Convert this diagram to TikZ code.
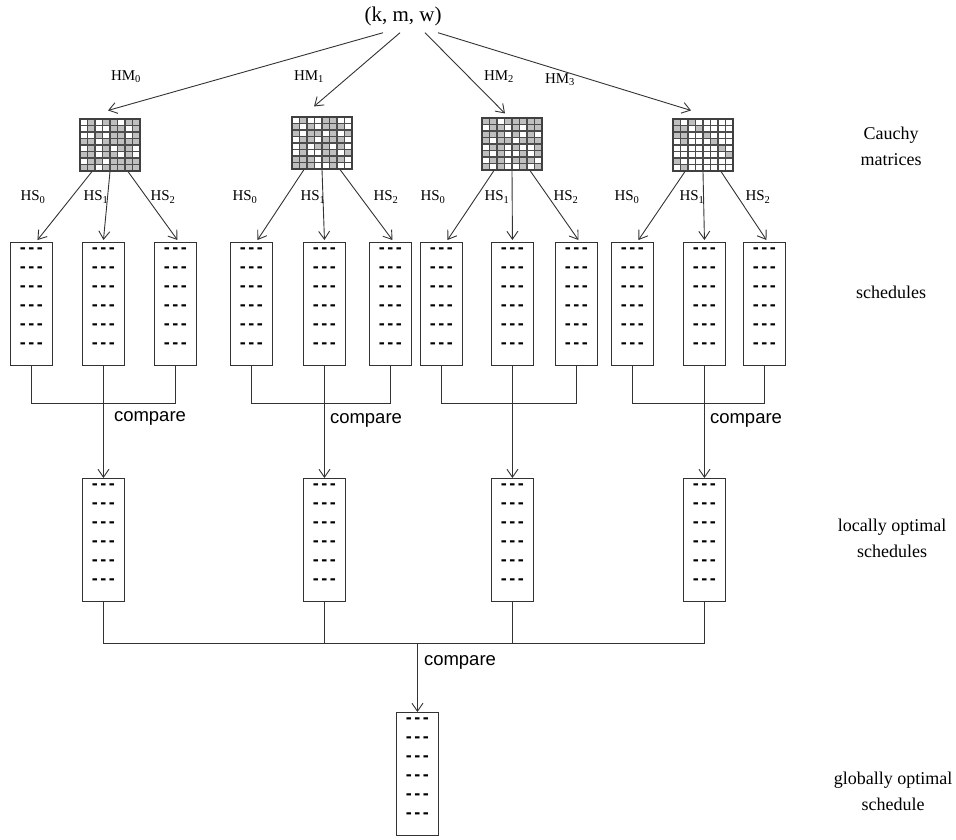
\documentclass[tikz,border=0pt]{standalone}
\usepackage{fontspec}
\setmainfont{Liberation Serif}
\newfontfamily\sansf{Liberation Sans}
\usetikzlibrary{arrows.meta}
\newcommand\dashrow{{\sansf\bfseries\fontsize{18}{18}\selectfont -\kern2.5pt-\kern2.5pt-}}
\newcommand\schedbx[3]{%
  \node[sbox] (#1) at (#2,#3) {};
  \foreach \dy in {9,28,47,66,85,104} \node[dashn] at ([yshift=-\dy pt]#1.north) {\dashrow};
}
\newcommand\cmat[4]{%
  \begin{scope}[shift={(#2,#3)}]
    \foreach \b [count=\i from 0] in {#4} {
      \pgfmathtruncatemacro\rr{\i/8}
      \pgfmathtruncatemacro\cc{\i-8*\rr}
      \ifnum\b=1 \fill[cellgray] (\cc*7.5,\rr*6.5) rectangle ++(7.5,6.5);\fi
    }
    \foreach \k in {0,...,8} {
      \draw[gridl] (\k*7.5,0) -- (\k*7.5,52);
      \draw[gridl] (0,\k*6.5) -- (60,\k*6.5);
    }
  \end{scope}
  \node[mbox] (#1) at (#2+30,#3+26) {};
}
\begin{document}
\begin{tikzpicture}[x=1pt,y=-1pt,
  ln/.style={draw=black!80, line width=0.9pt},
  arr/.style={ln, -{Straight Barb[length=8pt,width=11pt]}},
  sbox/.style={draw=black!80, line width=0.9pt, minimum width=42pt, minimum height=123pt, inner sep=0pt, anchor=north west},
  dashn/.style={inner sep=0pt, anchor=center},
  mbox/.style={minimum width=60pt, minimum height=52pt, inner sep=0pt, draw=black!75, line width=1.1pt},
  cellgray/.style={fill=black!25},
  gridl/.style={draw=black!70, line width=1.1pt},
  lab/.style={font=\fontsize{15}{15}\selectfont, inner sep=0pt},
  side/.style={font=\fontsize{18}{26}\selectfont, align=center, inner sep=0pt},
  cmp/.style={font=\sansf\fontsize{18.5}{18.5}\selectfont, inner sep=0pt},
]
\useasboundingbox (0,0) rectangle (956,839);

% top
\node[font=\fontsize{21}{21}\selectfont, inner sep=2pt] (top) at (403,16) {(k, m, w)};

% matrices
\cmat{m0}{80}{119}{0,1,0,1,1,0,1,1, 0,1,0,0,1,1,0,1, 0,0,1,0,1,1,0,1, 1,1,0,1,1,1,1,1, 0,1,0,1,0,1,1,0, 1,1,0,1,1,0,1,0, 0,1,1,0,1,1,1,1, 1,1,0,1,1,1,1,1}
\cmat{m1}{292}{117}{0,1,0,0,1,1,0,0, 1,0,1,0,1,1,1,0, 1,0,1,1,0,1,0,1, 0,1,1,0,1,1,1,0, 0,1,0,1,1,0,1,0, 0,1,0,0,1,1,0,1, 1,1,1,0,1,1,1,0, 1,1,1,0,0,1,0,0}
\cmat{m2}{482}{118}{1,1,0,1,1,1,1,1, 0,1,1,0,1,0,1,1, 1,1,1,0,1,0,1,0, 1,0,1,1,0,1,1,1, 0,1,1,0,1,0,0,1, 1,0,1,0,0,1,0,1, 0,1,1,0,1,1,1,0, 1,0,1,0,0,1,0,1}
\cmat{m3}{673}{119}{1,0,1,0,0,0,0,0, 1,1,0,1,0,0,0,0, 1,1,0,0,1,0,0,0, 0,1,0,0,0,1,0,0, 0,0,0,0,0,0,1,0, 0,0,0,0,0,0,0,1, 1,0,0,0,0,0,0,0, 0,1,0,0,0,0,0,0}

% HM arrows
\draw[arr] ([xshift=-20pt,yshift=-5pt]top.south) -- ([xshift=-2pt,yshift=8pt]m0.north);
\draw[arr] ([xshift=-3pt,yshift=-5pt]top.south) -- ([xshift=-8pt,yshift=10pt]m1.north);
\draw[arr] ([xshift=22pt,yshift=-5pt]top.south) -- ([xshift=-7pt,yshift=4pt]m2.north);
\draw[arr] ([xshift=35pt,yshift=-5pt]top.south) -- ([xshift=-12pt,yshift=8pt]m3.north);
\node[lab] (hm0) at (126,77) {HM\textsubscript{0}};
\node[lab] (hm1) at (309,77) {HM\textsubscript{1}};
\node[lab] (hm2) at (499,77) {HM\textsubscript{2}};
\node[lab] (hm3) at (560,80) {HM\textsubscript{3}};

% schedule boxes
\schedbx{g1a}{10}{242}\schedbx{g1b}{82}{242}\schedbx{g1c}{154}{242}
\schedbx{g2a}{230}{242}\schedbx{g2b}{303}{242}\schedbx{g2c}{369}{242}
\schedbx{g3a}{420}{242}\schedbx{g3b}{491}{242}\schedbx{g3c}{555}{242}
\schedbx{g4a}{611}{242}\schedbx{g4b}{683}{242}\schedbx{g4c}{743}{242}

% HS arrows
\foreach \m/\g in {m0/g1, m1/g2, m2/g3, m3/g4} {
  \draw[arr] ([xshift=-18pt]\m.south) -- ([xshift=6pt,yshift=2pt]\g a.north);
  \draw[arr] (\m.south) -- ([yshift=2pt]\g b.north);
  \draw[arr] ([xshift=18pt]\m.south) -- ([xshift=2pt,yshift=2pt]\g c.north);
}
\node[lab] at (33,197) {HS\textsubscript{0}};
\node[lab] at (96,197) {HS\textsubscript{1}};
\node[lab] at (163,197) {HS\textsubscript{2}};
\node[lab] at (245,197) {HS\textsubscript{0}};
\node[lab] at (313,197) {HS\textsubscript{1}};
\node[lab] at (386,197) {HS\textsubscript{2}};
\node[lab] at (433,197) {HS\textsubscript{0}};
\node[lab] at (497,197) {HS\textsubscript{1}};
\node[lab] at (566,197) {HS\textsubscript{2}};
\node[lab] at (627,197) {HS\textsubscript{0}};
\node[lab] at (692,197) {HS\textsubscript{1}};
\node[lab] at (758,197) {HS\textsubscript{2}};

% locally optimal boxes
\schedbx{l1}{82}{478}\schedbx{l2}{303}{478}\schedbx{l3}{491}{478}\schedbx{l4}{683}{478}
% global
\schedbx{gl}{396}{712}

\coordinate (hrow) at (0,403);
\coordinate (hrowb) at (0,643);
\foreach \g/\l in {g1/l1, g2/l2, g3/l3, g4/l4} {
  \draw[ln] (\g a.south) -- (\g a.south |- hrow) -- (\g c.south |- hrow) -- (\g c.south);
  \draw[arr] (\g b.south) -- (\l.north);
}
\draw[ln] (l1.south) -- (l1.south |- hrowb) -- (l4.south |- hrowb) -- (l4.south);
\draw[ln] (l2.south) -- (l2.south |- hrowb);
\draw[ln] (l3.south) -- (l3.south |- hrowb);
\draw[arr] (gl.north |- hrowb) -- (gl.north);

\node[cmp] (c1) at (150,418) {compare};
\node[cmp] (c2) at (366,420) {compare};
\node[cmp] (c4) at (746,420) {compare};
\node[cmp] (c5) at (460,662) {compare};

\node[side] (s1) at (891,146) {Cauchy\\matrices};
\node[side] (s2) at (891,292) {schedules};
\node[side] (s3) at (892,538) {locally optimal\\schedules};
\node[side] (s4) at (893,791) {globally optimal\\schedule};
\end{tikzpicture}
\end{document}
